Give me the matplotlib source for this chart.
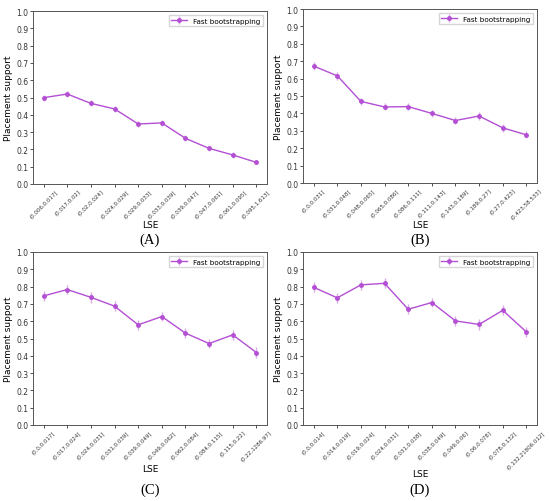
import matplotlib
matplotlib.use('Agg')
import matplotlib.pyplot as plt
import numpy as np

# LSE bins per panel
labels_a = ['(0.006,0.017]', '(0.017,0.02]', '(0.02,0.024]', '(0.024,0.029]', '(0.029,0.033]',
            '(0.033,0.039]', '(0.039,0.047]', '(0.047,0.061]', '(0.061,0.095]', '(0.095,1.613]']
labels_b = ['(0.0,0.031]', '(0.031,0.048]', '(0.048,0.065]', '(0.065,0.086]', '(0.086,0.111]',
            '(0.111,0.143]', '(0.143,0.189]', '(0.189,0.27]', '(0.27,0.423]', '(0.423,58.533]']
labels_c = ['(0.0,0.017]', '(0.017,0.024]', '(0.024,0.031]', '(0.031,0.039]', '(0.039,0.049]',
            '(0.049,0.062]', '(0.062,0.084]', '(0.084,0.115]', '(0.115,0.22]', '(0.22,1286.97]']
labels_d = ['(0.0,0.014]', '(0.014,0.019]', '(0.019,0.024]', '(0.024,0.031]', '(0.031,0.038]',
            '(0.038,0.049]', '(0.049,0.06]', '(0.06,0.078]', '(0.078,0.132]', '(0.132,21806.012]']

# mean placement support
support_a = [0.499, 0.520, 0.466, 0.434, 0.347, 0.353, 0.264, 0.206, 0.168, 0.125]
support_b = [0.672, 0.616, 0.469, 0.437, 0.439, 0.400, 0.359, 0.385, 0.317, 0.277]
support_c = [0.746, 0.783, 0.738, 0.687, 0.579, 0.627, 0.531, 0.471, 0.521, 0.419]
support_d = [0.796, 0.735, 0.810, 0.819, 0.669, 0.708, 0.602, 0.581, 0.663, 0.538]

# error bar half widths
err_a = [0.018, 0.018, 0.018, 0.018, 0.02, 0.018, 0.018, 0.015, 0.015, 0.012]
err_b = [0.022, 0.022, 0.02, 0.02, 0.02, 0.02, 0.02, 0.025, 0.022, 0.02]
err_c = [0.03, 0.028, 0.03, 0.028, 0.03, 0.028, 0.028, 0.028, 0.03, 0.03]
err_d = [0.028, 0.028, 0.028, 0.028, 0.03, 0.028, 0.028, 0.03, 0.028, 0.03]

# data, caption, axes box in pixels (left, y of x-axis, width, height), LSE y, caption y
panels = [
    (labels_a, support_a, err_a, '(A)', (33, 185, 234, 173), 225, 240),
    (labels_b, support_b, err_b, '(B)', (303, 184, 234, 174), 225, 240),
    (labels_c, support_c, err_c, '(C)', (33, 426, 234, 173), 470, 490),
    (labels_d, support_d, err_d, '(D)', (303, 426, 234, 173), 475, 490),
]

W, H = 550, 502
color = '#b44fd4'

fig = plt.figure(figsize=(5.5, 5.02), dpi=100)

for labels, vals, errs, tag, (l, b, w, h), lse_y, cap_y in panels:
    ax = fig.add_axes([l / W, (H - b) / H, w / W, h / H])
    x = np.arange(len(labels))
    ax.errorbar(x, vals, yerr=errs, color=color, marker='o', markersize=2.5,
                linewidth=1.0, ecolor=(0.75, 0.45, 0.85, 0.6), elinewidth=1.0,
                label='Fast bootstrapping')
    ax.set_ylim(0, 1.0)
    ax.set_xlim(-0.45, len(labels) - 0.55)
    ax.set_yticks(np.arange(0, 1.01, 0.1))
    ax.set_yticklabels([f'{v:.1f}' for v in np.arange(0, 1.01, 0.1)], fontsize=5.5)
    ax.set_xticks(x)
    ax.set_xticklabels(labels, rotation=45, fontsize=4.0, ha='center')
    ax.tick_params(length=2, width=0.6, pad=1.5, colors='#333333')
    for sp in ax.spines.values():
        sp.set_linewidth(0.7)
        sp.set_color('#555555')
    ax.set_ylabel('Placement support', fontsize=6.5, labelpad=2)
    ax.set_xlabel('LSE', fontsize=6.5, va='center')
    ax.xaxis.set_label_coords(0.5, -(lse_y - b) / h)
    ax.legend(loc='upper right', fontsize=5.2, frameon=True, handlelength=2.2,
              borderpad=0.4, fancybox=False, edgecolor='#cccccc')
    fig.text((l + w / 2) / W, (H - cap_y) / H, tag, ha='center', va='center',
             fontsize=10.5, family='Liberation Serif')

fig.savefig('out.png', dpi=100, facecolor='white')
